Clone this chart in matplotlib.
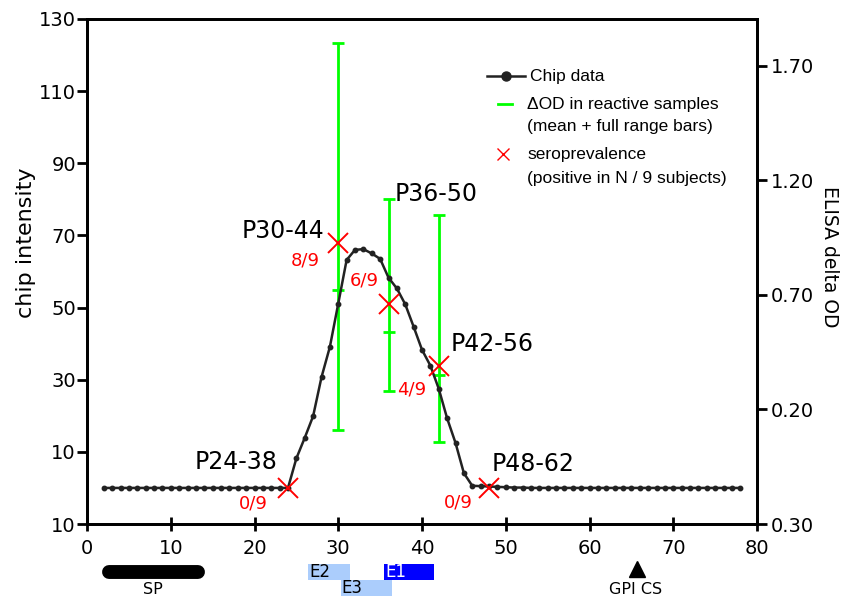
import matplotlib
matplotlib.use("Agg")
import matplotlib.pyplot as plt
from matplotlib.patches import Rectangle
from matplotlib.transforms import blended_transform_factory

# ---------------------------------------------------------------------------
# data
# ---------------------------------------------------------------------------
residue = list(range(2, 79))
chip_intensity = [
    0, 0, 0, 0, 0, 0, 0, 0, 0, 0, 0, 0, 0, 0, 0, 0, 0, 0, 0, 0, 0, 0,   # 2-23
    0,                                                                  # 24
    8.2, 13.9, 19.9, 30.7, 39.1, 51.1, 63.2, 66.0, 66.2, 65.0, 63.5,    # 25-35
    58.3, 55.3, 50.9, 44.7, 38.3, 33.9, 27.5, 19.3, 12.5, 4.1,          # 36-45
    0.6, 0.5, 0.4, 0.3, 0.2, 0.1, 0.1, 0.0,                             # 46-53
    0, 0, 0, 0, 0, 0, 0, 0, 0, 0, 0, 0, 0, 0, 0, 0, 0, 0, 0, 0, 0, 0, 0, 0, 0,  # 54-78
]

od_start = [30, 36, 42]
od_mean = [0.72, 0.54, 0.35]
od_low = [0.11, 0.28, 0.06]
od_high = [1.80, 1.12, 1.05]

sero_start = [24, 30, 36, 42, 48]
sero_value = [0, 67.8, 51.0, 33.8, 0]
sero_text = ["0/9", "8/9", "6/9", "4/9", "0/9"]
peptide_names = ["P24-38", "P30-44", "P36-50", "P42-56", "P48-62"]

x_ticks = [0, 10, 20, 30, 40, 50, 60, 70, 80]
left_ticks = [-10, 10, 30, 50, 70, 90, 110, 130]
left_labels = ["10", "10", "30", "50", "70", "90", "110", "130"]
right_ticks = [-0.3, 0.2, 0.7, 1.2, 1.7]
right_labels = ["0.30", "0.20", "0.70", "1.20", "1.70"]

sp_range = (1.75, 14.1)
epitope_names = ["E2", "E3", "E1"]
epitope_start = [26.4, 30.3, 35.5]
epitope_end = [31.4, 36.4, 41.4]
gpi_site = 65.7

# ---------------------------------------------------------------------------
W, H = 843, 597
AX_L, AX_R, AX_T, AX_B = 87, 757, 19, 524

fig = plt.figure(figsize=(W / 100, H / 100), dpi=100)
ax = fig.add_axes([AX_L / W, 1 - AX_B / H, (AX_R - AX_L) / W, (AX_B - AX_T) / H])
ax2 = ax.twinx()
ax.set_zorder(ax2.get_zorder() + 1)
ax.patch.set_visible(False)

GREEN = "#00ff00"
LINE = "#222222"


def fx(px):
    return (px - AX_L) / (AX_R - AX_L)


def fy(py):
    return (AX_B - py) / (AX_B - AX_T)


ax.plot(residue, chip_intensity, "-o", color=LINE, lw=1.8, ms=3.2, zorder=3)

yerr = [[m - lo for m, lo in zip(od_mean, od_low)],
        [hi - m for m, hi in zip(od_mean, od_high)]]
ax2.errorbar(od_start, od_mean, yerr=yerr, fmt="_", color=GREEN, ms=9, mew=2,
             elinewidth=2, capsize=4, capthick=2)

ax.plot(sero_start, sero_value, "x", color="red", ms=15, mew=1.4, zorder=4)

# peptide names (layout only)
name_pos = [(22.8, 7.2, "right"), (28.3, 71.2, "right"), (36.7, 81.5, "left"),
            (43.4, 39.9, "left"), (48.3, 6.6, "left")]
for name, (x, y, ha) in zip(peptide_names, name_pos):
    ax.text(x, y, name, ha=ha, va="center", fontsize=17, color="black")

frac_pos = [(21.6, -4.2, "right"), (27.8, 63.1, "right"), (34.8, 57.4, "right"),
            (37.0, 27.4, "left"), (46.1, -4.0, "right")]
for txt, (x, y, ha) in zip(sero_text, frac_pos):
    ax.text(x, y, txt, ha=ha, va="center", fontsize=13, color="red")

# axes styling
ax.set_xlim(0, 80)
ax.set_ylim(-10, 130)
ax2.set_ylim(-0.3, 1.905)
ax.set_xticks(x_ticks)
ax.set_yticks(left_ticks)
ax.set_yticklabels(left_labels)
ax2.set_yticks(right_ticks)
ax2.set_yticklabels(right_labels)
for a in (ax, ax2):
    for sp in a.spines.values():
        sp.set_linewidth(2)
ax.tick_params(axis="y", direction="out", length=7, width=2, labelsize=14, pad=1)
ax.tick_params(axis="x", direction="inout", length=10, width=2, labelsize=14, pad=6)
ax2.tick_params(axis="y", direction="out", length=7, width=2, labelsize=14, pad=3)
ax.set_ylabel("chip intensity", fontsize=16)
ax.yaxis.set_label_coords(fx(36), fy(243))
ax2.set_ylabel("ELISA delta OD", fontsize=13.5, rotation=270, va="center")
ax2.yaxis.set_label_coords(fx(829), fy(257))

# manual legend
LEG = dict(transform=ax.transAxes, fontsize=12.5, family="Liberation Sans",
           va="center", ha="left")
ax.plot([fx(487), fx(525)], [fy(76), fy(76)], color=LINE, lw=1.8,
        transform=ax.transAxes, clip_on=False)
ax.plot([fx(506)], [fy(76)], "o", color=LINE, ms=6.5, transform=ax.transAxes, clip_on=False)
ax.text(fx(530), fy(76), "Chip data", **LEG)
ax.plot([fx(498), fx(512)], [fy(104), fy(104)], color=GREEN, lw=2,
        transform=ax.transAxes, clip_on=False)
ax.text(fx(527), fy(104), "ΔOD in reactive samples", **LEG)
ax.text(fx(527), fy(127), "(mean + full range bars)", **LEG)
ax.plot([fx(503)], [fy(154)], "x", color="red", ms=9, mew=1,
        transform=ax.transAxes, clip_on=False)
ax.text(fx(527), fy(155), "seroprevalence", **LEG)
ax.text(fx(527), fy(178), "(positive in N / 9 subjects)", **LEG)

# sequence features under the x axis
trans = blended_transform_factory(ax.transData, ax.transAxes)
cap = 0.84
ax.plot([sp_range[0] + cap, sp_range[1] - cap], [fy(572), fy(572)], color="black",
        lw=10, solid_capstyle="round", transform=trans, clip_on=False)
ax.text(sum(sp_range) / 2, fy(593.5), "SP", ha="center", va="baseline",
        fontsize=11.5, transform=trans)

rows = [fy(579.5), fy(595.5), fy(579.5)]
faces = ["#abcdfc", "#abcdfc", "#0000ff"]
tcols = ["black", "black", "white"]
for name, s, e, y0, fc, tc in zip(epitope_names, epitope_start, epitope_end, rows, faces, tcols):
    ax.add_patch(Rectangle((s, y0), e - s, 15.5 / (AX_B - AX_T), facecolor=fc,
                           edgecolor="none", transform=trans, clip_on=False))
    ax.text(s + 0.1, y0 + 7.5 / (AX_B - AX_T), name, ha="left", va="center",
            fontsize=12, color=tc, transform=trans)

ax.plot([gpi_site], [fy(569)], marker="^", ms=11.5, color="black",
        transform=trans, clip_on=False)
ax.text(gpi_site - 0.2, fy(593.5), "GPI CS", ha="center", va="baseline",
        fontsize=11.5, transform=trans)

fig.savefig("out.png", dpi=100)
